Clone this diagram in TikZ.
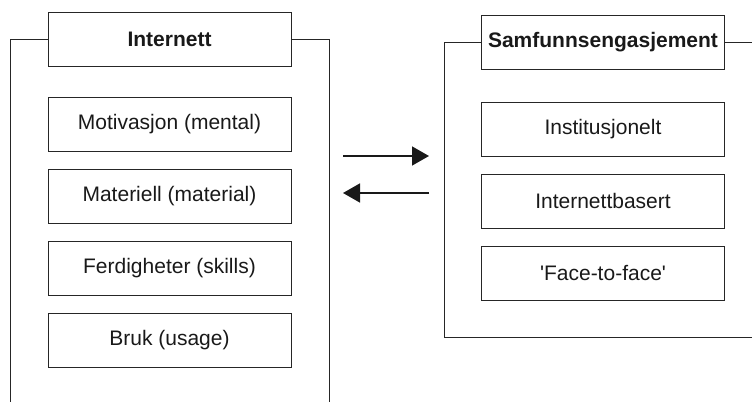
\documentclass[tikz,border=0pt]{standalone}
\usepackage{fontspec}
\setmainfont{Liberation Sans}
\usetikzlibrary{arrows.meta}

\begin{document}
\begin{tikzpicture}[x=1pt, y=-1pt,
    box/.style={draw=black!85, line width=1pt, minimum width=243pt, minimum height=54pt, inner sep=0pt, text=black!90, font=\fontsize{21}{25}\selectfont},
    head/.style={box, font=\fontsize{21}{25}\selectfont\bfseries},
    frame/.style={draw=black!85, line width=1pt},
    link/.style={draw=black!90, line width=1.5pt, -{Triangle[length=17pt, width=19pt]}}]
    \useasboundingbox (0,0) rectangle (752,402);

    % left group
    \node[head] (inet) at (169.5,39) {Internett};
    \draw[frame] (inet.west) -- (10,39) -- (10,402);
    \draw[frame] (inet.east) -- (329,39) -- (329,402);
    \node[box] (motiv) at (169.5,124) {Motivasjon (mental)};
    \node[box] (mater) at (169.5,196) {Materiell (material)};
    \node[box] (ferd) at (169.5,268) {Ferdigheter (skills)};
    \node[box] (bruk) at (169.5,340) {Bruk (usage)};

    % right group
    \node[head] (samf) at (603,42) {Samfunnsengasjement};
    \draw[frame] (samf.west) -- (444,42) -- (444,337) -- (752,337);
    \draw[frame] (samf.east) -- (752,42);
    \node[box] (inst) at (603,129) {Institusjonelt};
    \node[box] (netb) at (603,201) {Internettbasert};
    \node[box] (face) at (603,273) {\textquotesingle Face-to-face\textquotesingle};

    % arrows
    \coordinate (fwdA) at (343,156);
    \coordinate (fwdB) at (429,156);
    \coordinate (backA) at (429,193);
    \coordinate (backB) at (343,193);
    \draw[link] (fwdA) -- (fwdB);
    \draw[link] (backA) -- (backB);
\end{tikzpicture}
\end{document}
